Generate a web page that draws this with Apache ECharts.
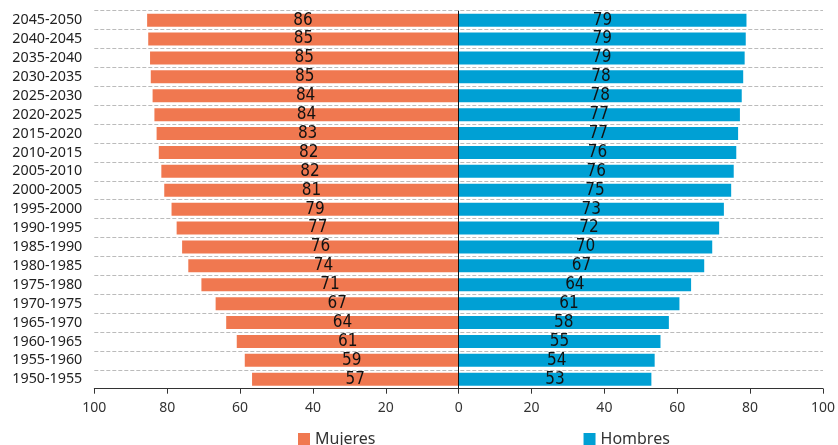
<!DOCTYPE html>
<html><head><meta charset="utf-8">
<script src="https://cdn.jsdelivr.net/npm/echarts@6/dist/echarts.min.js"></script>
<style>html,body{margin:0;padding:0;background:#fff}#c{width:838px;height:445px}</style>
</head><body><div id="c"></div>
<script>
const categories = ['1950-1955','1955-1960','1960-1965','1965-1970','1970-1975','1975-1980','1980-1985','1985-1990','1990-1995','1995-2000','2000-2005','2005-2010','2010-2015','2015-2020','2020-2025','2025-2030','2030-2035','2035-2040','2040-2045','2045-2050'];
const mujeres = [56.7,58.7,60.9,63.8,66.7,70.6,74.2,75.9,77.4,78.8,80.8,81.6,82.3,82.9,83.5,84.0,84.5,84.7,85.2,85.5];
const hombres = [52.9,53.8,55.4,57.7,60.6,63.8,67.4,69.6,71.5,72.8,74.8,75.5,76.2,76.7,77.2,77.7,78.1,78.5,78.8,79.0];
const xTicks = {min:-100, max:100, interval:20};

const chart = echarts.init(document.getElementById('c'));
const labelStyle = {show:true, position:'inside', color:'#111', fontSize:17,
  fontFamily:'DejaVu Sans Condensed, Liberation Sans Narrow, Noto Sans',
  formatter: p => Math.round(Math.abs(p.value))};
chart.setOption({
  animation:false,
  grid:{left:94.3, right:12.3, top:10.7, bottom:56.3},
  legend:{left:293, top:426, icon:'rect', itemWidth:12, itemHeight:12, itemGap:208,
    textStyle:{fontSize:16, color:'#333', fontFamily:'Noto Sans'},
    data:['Mujeres','Hombres']},
  xAxis:{type:'value', min:xTicks.min, max:xTicks.max, interval:xTicks.interval,
    axisLine:{show:true, onZero:false, lineStyle:{color:'#333', width:1}},
    axisTick:{show:true, length:5, lineStyle:{color:'#333'}},
    splitLine:{show:false},
    axisLabel:{color:'#333', fontSize:14, fontFamily:'Noto Sans', margin:12, formatter:v=>Math.abs(v)}},
  yAxis:{type:'category', data:categories,
    axisLine:{show:false, onZero:false}, axisTick:{show:false},
    splitLine:{show:true, interval:0, lineStyle:{color:'#bbb', type:[4,2], width:1}},
    axisLabel:{interval:0, color:'#222', fontSize:14.3, fontFamily:'Noto Sans', margin:12}},
  series:[
    {name:'Mujeres', type:'bar', barWidth:13, barGap:'-100%',
      itemStyle:{color:'#F07850'}, label:labelStyle,
      data:mujeres.map(v=>-v),
      markLine:{silent:true, symbol:'none', label:{show:false},
        lineStyle:{color:'#111', type:'solid', width:1}, data:[{xAxis:0}]}},
    {name:'Hombres', type:'bar', barWidth:13,
      itemStyle:{color:'#00A0D4'}, label:labelStyle,
      data:hombres}
  ]
});
</script></body></html>
